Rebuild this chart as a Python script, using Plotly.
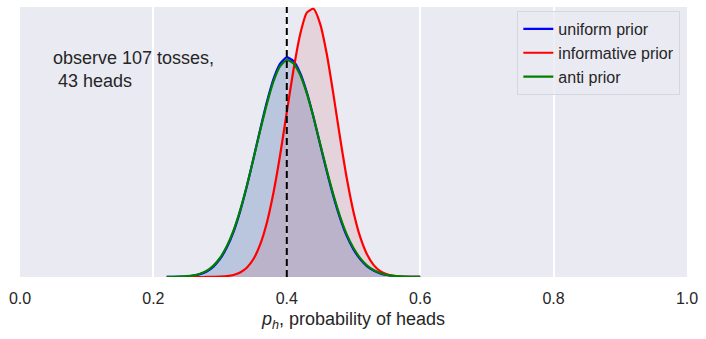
import plotly.graph_objects as go

# probability of heads grid
p_grid = [0.22, 0.23, 0.24, 0.25, 0.26, 0.27, 0.28, 0.29, 0.30,
          0.31, 0.32, 0.33, 0.34, 0.35, 0.36, 0.37, 0.38, 0.39, 0.40, 0.41, 0.42,
          0.43, 0.44, 0.45, 0.46, 0.47, 0.48, 0.49, 0.50, 0.51, 0.52, 0.53, 0.54,
          0.55, 0.56, 0.57, 0.58, 0.59, 0.60]

uniform_post = [0.003, 0.006, 0.012, 0.023, 0.051, 0.110, 0.216, 0.403, 0.698,
                1.14, 1.74, 2.54, 3.50, 4.59, 5.70, 6.76, 7.66, 8.26, 8.50, 8.36, 7.90,
                7.15, 6.19, 5.13, 4.08, 3.11, 2.27, 1.58, 1.07, 0.69, 0.42, 0.25, 0.141,
                0.076, 0.039, 0.019, 0.009, 0.004, 0.002]

informative_post = [0.0, 0.0, 0.0, 0.0, 0.0, 0.0, 0.002, 0.005, 0.013,
                    0.033, 0.078, 0.174, 0.360, 0.695, 1.25, 2.09, 3.26, 4.72, 6.38, 8.02, 9.39,
                    10.23, 10.38, 9.80, 8.62, 7.05, 5.37, 3.81, 2.52, 1.55, 0.89, 0.47, 0.23,
                    0.108, 0.047, 0.019, 0.007, 0.002, 0.001]

anti_post = [0.004, 0.008, 0.016, 0.030, 0.062, 0.128, 0.242, 0.440, 0.745,
             1.19, 1.79, 2.58, 3.52, 4.58, 5.66, 6.69, 7.57, 8.16, 8.40, 8.27, 7.83,
             7.11, 6.19, 5.16, 4.13, 3.17, 2.33, 1.64, 1.12, 0.73, 0.45, 0.27, 0.155,
             0.085, 0.045, 0.022, 0.011, 0.005, 0.002]

series_names = ["uniform prior", "informative prior", "anti prior"]
line_colors = ["#0000FF", "#FF0000", "#008000"]
fill_colors = ["rgba(76,114,176,0.30)", "rgba(196,78,82,0.15)", None]

observed_p = 0.40
x_ticks = [0.0, 0.2, 0.4, 0.6, 0.8, 1.0]
x_tick_labels = ["0.0", "0.2", "0.4", "0.6", "0.8", "1.0"]
annotation_text = "observe 107 tosses,<br>&nbsp;43 heads"

TEXT = "#262626"
FONT = "Liberation Sans, Arial, sans-serif"

fig = go.Figure()
all_series = [uniform_post, informative_post, anti_post]

for ys, fc in zip(all_series, fill_colors):
    if fc is None:
        continue
    fig.add_trace(go.Scatter(x=p_grid, y=ys, mode="lines", fill="tozeroy",
                             fillcolor=fc, line=dict(width=0, shape="spline", smoothing=0.6),
                             showlegend=False, hoverinfo="skip"))

for ys, name, lc in zip(all_series, series_names, line_colors):
    fig.add_trace(go.Scatter(x=p_grid, y=ys, mode="lines", name=name,
                             line=dict(color=lc, width=2.2, shape="spline", smoothing=0.6)))

fig.add_vline(x=observed_p, line=dict(color="black", width=2, dash="7px,4px"), layer="above")

fig.add_annotation(x=0.046, y=0.855, xref="x", yref="paper", text=annotation_text,
                   showarrow=False, xanchor="left", yanchor="top", align="left",
                   font=dict(size=18, color=TEXT, family=FONT))

fig.update_layout(
    width=706, height=339,
    margin=dict(l=20, r=19, t=7, b=62),
    paper_bgcolor="white",
    plot_bgcolor="#EAEAF2",
    font=dict(family=FONT, color=TEXT),
    legend=dict(x=0.99, y=0.985, xanchor="right", yanchor="top",
                bgcolor="rgba(234,234,242,0.8)", bordercolor="#D6D6DE", borderwidth=1,
                font=dict(size=16, color=TEXT, family=FONT), tracegroupgap=0),
    xaxis=dict(range=[0, 1], tickvals=x_ticks, ticktext=x_tick_labels,
               showgrid=True, gridcolor="white", gridwidth=1.6, zeroline=False,
               showline=False, ticks="outside", ticklen=7, tickcolor="rgba(0,0,0,0)",
               tickfont=dict(size=16, color=TEXT, family=FONT),
               title=dict(text="<i>p<sub>h</sub></i>, probability of heads",
                          font=dict(size=18, color=TEXT, family=FONT), standoff=6)),
    yaxis=dict(range=[0, 10.45], showticklabels=False, showgrid=False, zeroline=False,
               showline=False, ticks=""),
)

fig.write_html("out.html")
